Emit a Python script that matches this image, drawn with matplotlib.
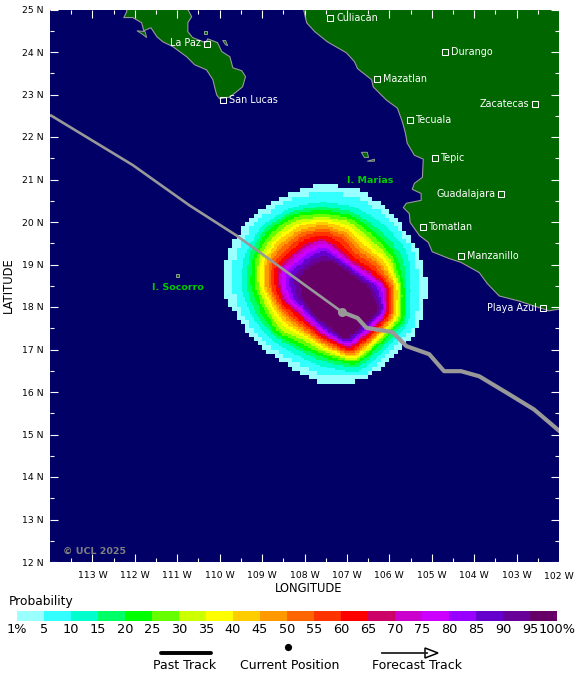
import numpy as np
import matplotlib
matplotlib.use("Agg")
import matplotlib.pyplot as plt
from matplotlib.path import Path
from matplotlib.colors import ListedColormap

plt.rcParams['font.family'] = ['DejaVu Sans']

LEVELS = [1, 5, 10, 15, 20, 25, 30, 35, 40, 45, 50, 55, 60, 65, 70, 75, 80, 85, 90, 95]
LEVEL_COLORS = ['#99ffff', '#33ffff', '#00ffcc', '#00ff66', '#00ff00', '#66ff00', '#ccff00',
                '#ffff00', '#ffcc00', '#ff9900', '#ff6600', '#ff3300', '#ff0000', '#cc0066',
                '#cc00cc', '#cc00ff', '#9900ff', '#6600cc', '#660099', '#660066']
BAR_LABELS = ['1%', '5', '10', '15', '20', '25', '30', '35', '40', '45', '50', '55', '60', '65',
              '70', '75', '80', '85', '90', '95', '100%']

# Probability outlines: distance from the centre along 16 bearings (E, ENE, NE ... ESE, going anticlockwise),
# in 1/127.5 degree
CENTER_LON, CENTER_LAT = 107.55, 18.48
RADIUS_UNIT = 1 / 127.5
RINGS = [
    [315, 305, 302, 312, 310, 300, 305, 308, 310, 275, 262, 262, 294, 307, 300, 312],
    [292, 290, 284, 288, 288, 282, 285, 285, 280, 255, 245, 242, 268, 295, 282, 298],
    [262, 275, 262, 258, 255, 258, 262, 258, 250, 235, 225, 222, 242, 280, 266, 280],
    [250, 255, 240, 243, 240, 247, 250, 244, 235, 220, 212, 205, 226, 266, 254, 270],
    [242, 240, 226, 232, 232, 238, 240, 232, 220, 205, 204, 195, 214, 258, 245, 262],
    [236, 228, 214, 222, 220, 228, 228, 223, 208, 192, 195, 183, 204, 251, 238, 255],
    [230, 218, 201, 211, 210, 217, 216, 214, 198, 182, 185, 172, 195, 245, 233, 248],
    [226, 208, 188, 200, 202, 206, 205, 205, 190, 172, 172, 162, 188, 240, 228, 242],
    [222, 198, 175, 190, 195, 197, 195, 197, 182, 165, 160, 155, 182, 234, 223, 237],
    [216, 188, 163, 178, 185, 186, 183, 189, 175, 157, 150, 148, 176, 228, 219, 231],
    [210, 178, 150, 167, 177, 176, 172, 181, 165, 150, 141, 142, 170, 223, 214, 226],
    [204, 165, 138, 155, 168, 165, 160, 170, 158, 143, 132, 135, 163, 217, 209, 221],
    [198, 152, 125, 140, 158, 152, 148, 160, 148, 135, 122, 128, 157, 211, 204, 215],
    [192, 140, 116, 125, 145, 140, 136, 150, 140, 127, 112, 122, 149, 205, 197, 210],
    [188, 133, 110, 118, 140, 133, 128, 142, 132, 121, 106, 116, 144, 201, 192, 206],
    [182, 125, 105, 110, 132, 123, 118, 132, 125, 114, 100, 110, 138, 196, 188, 202],
    [174, 115, 100, 102, 122, 112, 108, 122, 115, 106, 94, 105, 133, 191, 183, 198],
    [163, 108, 95, 95, 110, 100, 98, 108, 102, 97, 87, 98, 125, 186, 178, 194],
    [150, 100, 88, 87, 95, 87, 86, 95, 85, 86, 80, 92, 118, 179, 172, 189],
    [135, 92, 80, 80, 78, 72, 74, 78, 70, 73, 72, 85, 108, 172, 165, 183],
]

MAINLAND = [(108.02, 25.0), (107.95, 24.69), (107.76, 24.48), (107.46, 24.24), (107.01, 23.98),
            (106.82, 23.77), (106.75, 23.61), (106.42, 23.35), (106.38, 23.18), (106.07, 22.87),
            (105.81, 22.68), (105.69, 22.35), (105.62, 22.09), (105.58, 21.86), (105.41, 21.57),
            (105.20, 21.48), (105.22, 21.05), (105.41, 20.91), (105.46, 20.77), (105.25, 20.67),
            (105.25, 20.51), (105.60, 20.44), (105.67, 20.34), (105.53, 20.20), (105.51, 19.99),
            (105.29, 19.68), (105.08, 19.52), (104.99, 19.30), (104.59, 19.14), (104.31, 19.05),
            (103.88, 18.81), (103.69, 18.55), (103.41, 18.26), (102.94, 18.14), (102.24, 17.91),
            (102.0, 17.95)]
BAJA = [(112.19, 25.0), (112.19, 24.95), (112.26, 24.81), (112.05, 24.81), (111.84, 24.69),
        (111.79, 24.50), (111.62, 24.57), (111.48, 24.36), (111.34, 24.24), (111.11, 24.13),
        (110.78, 23.89), (110.59, 23.70), (110.31, 23.58), (110.16, 23.35), (110.12, 23.18),
        (110.07, 22.99), (110.0, 22.90), (109.76, 22.94), (109.46, 23.18), (109.39, 23.42),
        (109.48, 23.56), (109.69, 23.63), (109.76, 23.89), (109.95, 24.01), (110.05, 24.22),
        (110.28, 24.31), (110.33, 24.22), (110.64, 24.34), (110.75, 24.48), (110.75, 24.69),
        (110.66, 24.83), (110.75, 25.0)]
ISLANDS = [
    [(111.95, 24.50), (111.76, 24.48), (111.72, 24.34), (111.81, 24.41)],
    [(110.37, 24.50), (110.29, 24.50), (110.29, 24.42), (110.37, 24.42)],
    [(109.93, 24.27), (109.86, 24.27), (109.81, 24.15), (109.86, 24.17)],
    [(106.66, 21.64), (106.52, 21.64), (106.49, 21.52), (106.59, 21.52)],
    [(106.52, 21.43), (106.35, 21.48), (106.35, 21.43)],
    [(111.02, 18.78), (110.97, 18.78), (110.97, 18.71), (111.02, 18.71)],
]

PAST_LON = [102.0, 102.59, 103.18, 103.88, 104.31, 104.71, 105.06, 105.60, 105.93, 106.54, 106.75, 107.11]
PAST_LAT = [15.09, 15.59, 15.95, 16.37, 16.49, 16.49, 16.89, 17.08, 17.41, 17.51, 17.74, 17.88]
FORECAST_LON = [107.11, 109.6, 110.71, 112.05, 114.0]
FORECAST_LAT = [17.88, 19.68, 20.39, 21.34, 22.52]

CITIES = ['Culiacan', 'Durango', 'Mazatlan', 'Tecuala', 'Zacatecas', 'Tepic', 'Guadalajara',
          'Tomatlan', 'Manzanillo', 'Playa Azul', 'La Paz', 'San Lucas']
CITY_LON = [107.39, 104.68, 106.28, 105.51, 102.56, 104.92, 103.36, 105.2, 104.31, 102.38, 110.31, 109.91]
CITY_LAT = [24.81, 24.01, 23.37, 22.40, 22.78, 21.50, 20.67, 19.89, 19.19, 17.98, 24.20, 22.87]
CITY_SIDE = ['r', 'r', 'r', 'r', 'l', 'r', 'l', 'r', 'r', 'l', 'l', 'r']

OCEAN, LAND, COAST = '#000066', '#006600', '#999999'

W, H = 580, 681
fig = plt.figure(figsize=(W / 100, H / 100), dpi=100, facecolor='white')
L, R, T, B = 50, 559, 9.5, 562
ax = fig.add_axes([L / W, 1 - B / H, (R - L) / W, (B - T) / H], facecolor=OCEAN)
ax.set_xlim(114, 102)
ax.set_ylim(12, 25)
for s in ax.spines.values():
    s.set_visible(False)

ax.set_xticks(np.arange(103, 114))
ax.set_xticks(np.arange(102.5, 114, 1), minor=True)
ax.set_xticklabels([f'{v} W' for v in range(103, 114)])
ax.set_yticks(np.arange(12, 26))
ax.set_yticks(np.arange(12.5, 25, 1), minor=True)
ax.set_yticklabels([f'{v} N' for v in range(12, 26)])
ax.tick_params(which='major', direction='in', length=6, width=0.8, color='white', top=True, right=True, labelsize=6.7)
ax.tick_params(which='minor', direction='in', length=3.2, width=0.8, color='white', top=True, right=True)
ax.tick_params(axis='x', which='major', pad=6.2)
ax.tick_params(axis='y', which='major', pad=4.5)
# 102 W label sits on the frame edge
ax.text(102, 11.76, '102 W', fontsize=6.7, ha='center', va='top', clip_on=False)

# Land
for poly, closed in ((MAINLAND, False), (BAJA, True)):
    xs, ys = zip(*poly)
    if closed:
        ax.fill(xs, ys, color=LAND, lw=0, zorder=1)
        ax.plot(list(xs) + [xs[0]], list(ys) + [ys[0]], color=COAST, lw=0.8, zorder=2)
    else:
        ax.fill(list(xs) + [102.0], list(ys) + [25.0], color=LAND, lw=0, zorder=1)
        ax.plot([102.0] + list(xs), [25.0] + list(ys), color=COAST, lw=0.8, zorder=2)
for isl in ISLANDS:
    xs, ys = zip(*isl)
    ax.fill(xs, ys, facecolor=LAND, edgecolor=COAST, lw=0.7, zorder=2)


def outline(radii):
    ang = np.radians(np.arange(16) * 22.5)
    r = np.asarray(radii) * RADIUS_UNIT
    pts = np.column_stack([CENTER_LON - r * np.cos(ang), CENTER_LAT + r * np.sin(ang)])
    for _ in range(2):  # light corner cutting for a rounded outline
        nxt = np.roll(pts, -1, axis=0)
        pts = np.column_stack([0.85 * pts + 0.15 * nxt, 0.15 * pts + 0.85 * nxt]).reshape(-1, 2)
    return pts


# Probability field on a stepped grid, coarser on the outer rings
for lev, color, radii in zip(LEVELS, LEVEL_COLORS, RINGS):
    step = 0.1 if lev <= 5 else 0.04
    ex = np.arange(104, 111 + step, step)
    ey = np.arange(15, 22 + step, step)
    cx, cy = np.meshgrid((ex[:-1] + ex[1:]) / 2, (ey[:-1] + ey[1:]) / 2)
    inside = Path(outline(radii)).contains_points(np.column_stack([cx.ravel(), cy.ravel()])).reshape(cx.shape)
    ax.pcolormesh(ex, ey, np.ma.masked_where(~inside, inside.astype(float)),
                  cmap=ListedColormap([color]), antialiased=False, linewidth=0, zorder=3)

# Tracks
ax.plot(FORECAST_LON, FORECAST_LAT, color=COAST, lw=1.9, zorder=4, solid_capstyle='butt')
ax.plot(PAST_LON, PAST_LAT, color=COAST, lw=3.0, zorder=5, solid_joinstyle='round')
ax.plot(PAST_LON[-1], PAST_LAT[-1], 'o', color=COAST, ms=6.5, mew=0, zorder=6)

# Cities
ax.plot(CITY_LON, CITY_LAT, ls='', marker='s', ms=4.6, mfc='none', mec='white', mew=0.75, zorder=7)
for name, lon, lat, side in zip(CITIES, CITY_LON, CITY_LAT, CITY_SIDE):
    off = 4.2 if side == 'r' else -4.2
    ax.annotate(name, (lon, lat), xytext=(off, 0), textcoords='offset points', color='white', fontsize=6.9,
                ha='left' if side == 'r' else 'right', va='center', zorder=8)

ax.text(106.46, 20.98, 'I. Marias', color='#00cc00', fontsize=6.8, fontweight='bold', ha='center', va='center', zorder=8)
ax.text(110.99, 18.47, 'I. Socorro', color='#00cc00', fontsize=6.8, fontweight='bold', ha='center', va='center', zorder=8)
ax.text(113.69, 12.26, '© UCL 2025', color='#808080', fontsize=6.8, fontweight='bold', ha='left', va='center', zorder=8)

# Overlay for titles and legend, in figure pixels
ov = fig.add_axes([0, 0, 1, 1], facecolor='none')
ov.set_xlim(0, W)
ov.set_ylim(H, 0)
ov.axis('off')
ov.text(309, 588, 'LONGITUDE', fontsize=8.3, ha='center', va='center')
ov.text(8, 285, 'LATITUDE', fontsize=8.3, rotation=90, ha='center', va='center')
ov.text(9, 601, 'Probability', fontsize=8.8, ha='left', va='center')

# Colour bar
cax = fig.add_axes([17 / W, 1 - 621 / H, 540 / W, 10 / H])
cax.bar(np.arange(len(LEVELS)), np.ones(len(LEVELS)), width=1, align='edge', color=LEVEL_COLORS, lw=0)
cax.set_xlim(0, len(LEVELS))
cax.set_ylim(0, 1)
cax.axis('off')
for i, lab in enumerate(BAR_LABELS):
    cax.annotate(lab, (i, 0), xytext=(0, -1.4), textcoords='offset points', fontsize=9.3,
                 ha='center', va='top', annotation_clip=False)

# Legend
ov.plot([161, 211], [653, 653], color='black', lw=2.8, solid_capstyle='round')
ov.plot([287.5], [647], 'o', color='black', ms=5.2, mew=0)
ov.plot([382, 427], [653, 653], color='#222222', lw=1.3)
ov.fill([425, 425, 438], [648, 658, 653], facecolor='white', edgecolor='black', lw=1.1)
ov.text(185, 665.5, 'Past Track', fontsize=9, ha='center', va='center')
ov.text(290, 665.5, 'Current Position', fontsize=9, ha='center', va='center')
ov.text(417, 665.5, 'Forecast Track', fontsize=9, ha='center', va='center')

fig.savefig('out.png', dpi=100)
